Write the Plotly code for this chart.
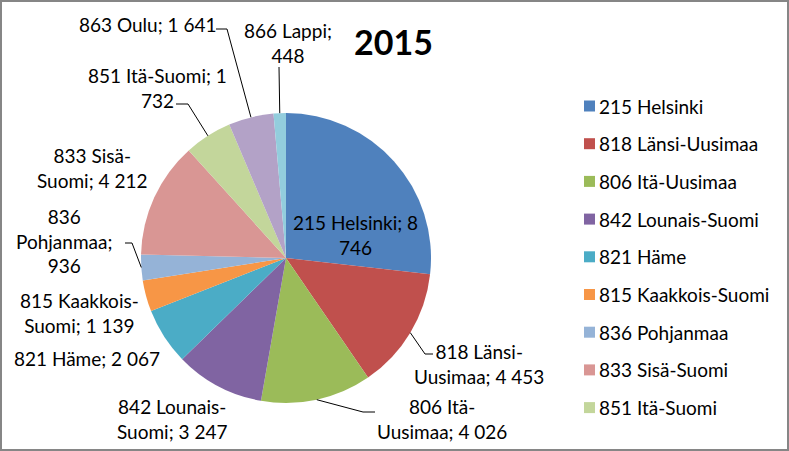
import math
import plotly.graph_objects as go

W, H = 789, 451

regions = ["215 Helsinki", "818 Länsi-Uusimaa", "806 Itä-Uusimaa", "842 Lounais-Suomi",
           "821 Häme", "815 Kaakkois-Suomi", "836 Pohjanmaa", "833 Sisä-Suomi",
           "851 Itä-Suomi", "863 Oulu", "866 Lappi"]
values = [8746, 4453, 4026, 3247, 2067, 1139, 936, 4212, 1732, 1641, 448]
colors = ["#4F81BD", "#C0504D", "#9BBB59", "#8064A2", "#4BACC6", "#F79646",
          "#95B3D7", "#D99694", "#C3D69B", "#B3A2C7", "#93CDDD"]
title = "2015"

# label layout: line-break positions, centre of the text block (px), elbows of leader line
breaks = [[16], [10], [8], [12], [], [13], [4, 15], [9], [17], [], [11]]
label_pos = [(355, 235), (479, 364), (442, 419), (172, 419), (87, 358), (79, 313),
             (64, 241), (92, 168), (157, 88), (147, 25), (288, 43)]
leaders = {1: [(433, 354), (425, 354)], 2: [(375, 412), (363, 412)],
           6: [(125, 243), (132, 243)], 8: [(176, 104), (188, 104)],
           9: [(216, 29), (227, 29)], 10: [(279, 67)]}

cx, cy, r = 286, 258, 145
fnt = "Lato, Carlito, Calibri, sans-serif"


def fmt(v):
    return f"{v:,}".replace(",", " ")


def wrap(s, idx):
    parts, last = [], 0
    for i in idx:
        parts.append(s[last:i].strip())
        last = i
    parts.append(s[last:].strip())
    return "<br>".join(parts)


def px(x, y):
    return x / W, 1 - y / H


fig = go.Figure()
fig.add_trace(go.Pie(labels=regions, values=values, sort=False, direction="clockwise",
                     rotation=0, marker=dict(colors=colors, line=dict(width=0)),
                     textinfo="none", hoverinfo="label+value", showlegend=False,
                     domain=dict(x=[(cx - r) / W, (cx + r) / W],
                                 y=[1 - (cy + r) / H, 1 - (cy - r) / H])))

total = sum(values)
annotations = []
shapes = []
cum = 0
for i, (name, v) in enumerate(zip(regions, values)):
    mid = (cum + v / 2) / total * 2 * math.pi
    cum += v
    txt = wrap(f"{name}; {fmt(v)}", breaks[i])
    x, y = px(*label_pos[i])
    annotations.append(dict(x=x, y=y, xref="paper", yref="paper", text=txt, showarrow=False,
                            xanchor="center", yanchor="middle", align="center",
                            font=dict(size=19, color="black", family=fnt)))
    if i in leaders:
        ex, ey = cx + r * math.sin(mid), cy - r * math.cos(mid)
        pts = leaders[i] + [(ex, ey)]
        path = "M " + " L ".join(f"{px(a, b)[0]},{px(a, b)[1]}" for a, b in pts)
        shapes.append(dict(type="path", xref="paper", yref="paper", path=path,
                           line=dict(color="black", width=1)))

# legend (only the first nine entries fit)
for k in range(9):
    ly = 106 + k * 37.7
    x0, y0 = px(584, ly - 5.5)
    x1, y1 = px(595, ly + 5.5)
    shapes.append(dict(type="rect", xref="paper", yref="paper", x0=x0, x1=x1, y0=y0, y1=y1,
                       fillcolor=colors[k], line=dict(width=0)))
    tx, ty = px(597, ly)
    annotations.append(dict(x=tx, y=ty, xref="paper", yref="paper", text=regions[k],
                            showarrow=False, xanchor="left", yanchor="middle",
                            font=dict(size=19, color="black", family=fnt)))

tx, ty = px(393, 41)
annotations.append(dict(x=tx, y=ty, xref="paper", yref="paper", text=f"<b>{title}</b>",
                        showarrow=False, xanchor="center", yanchor="middle",
                        font=dict(size=34, color="black", family=fnt)))

shapes.append(dict(type="rect", xref="paper", yref="paper", x0=1 / W, x1=1 - 1 / W,
                   y0=1 / H, y1=1 - 1 / H, line=dict(color="#868686", width=2)))

fig.update_layout(width=W, height=H, margin=dict(l=0, r=0, t=0, b=0, pad=0),
                  paper_bgcolor="white", plot_bgcolor="white",
                  annotations=annotations, shapes=shapes, showlegend=False)

fig.write_html("out.html", config={"displayModeBar": False},
               post_script="document.body.style.margin='0';")
